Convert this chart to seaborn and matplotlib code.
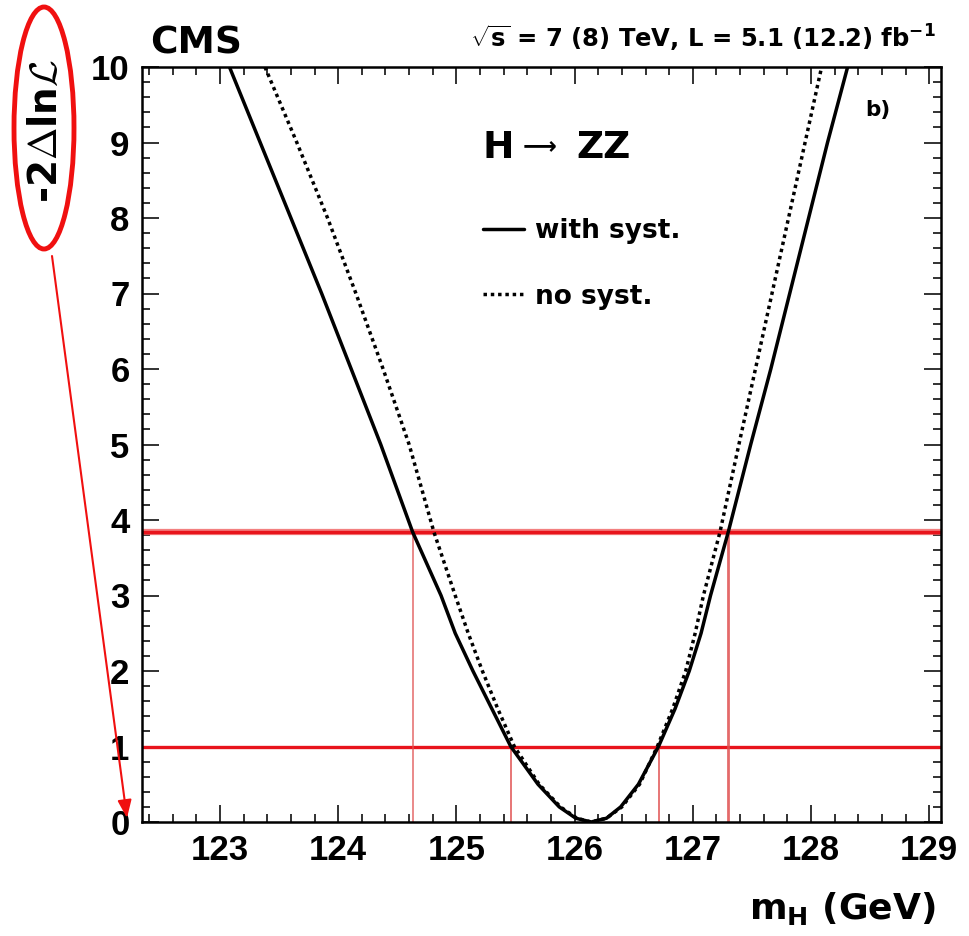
import numpy as np
import pandas as pd
import matplotlib
matplotlib.use("Agg")
import matplotlib.pyplot as plt
import seaborn as sns
from matplotlib.patches import Ellipse
from matplotlib.ticker import MultipleLocator

# ---- data ----
mass_with = [123.08, 123.34, 123.60, 123.86, 124.11, 124.36, 124.63, 124.87, 124.99,
             125.14, 125.30, 125.46, 125.69, 125.87, 126.01, 126.14, 126.27, 126.39,
             126.54, 126.71, 126.85, 126.97, 127.07, 127.15, 127.30, 127.49, 127.66,
             127.82, 127.98, 128.14, 128.31]
nll_with = [10.0, 9.0, 8.0, 7.0, 6.0, 5.0, 3.84, 3.0, 2.5,
            2.0, 1.5, 1.0, 0.5, 0.2, 0.05, 0.0, 0.05, 0.2,
            0.5, 1.0, 1.5, 2.0, 2.5, 3.0, 3.84, 5.0, 6.0,
            7.0, 8.0, 9.0, 10.0]
mass_nosyst = [123.38, 123.65, 123.91, 124.15, 124.38, 124.60, 124.81, 124.99, 125.10,
               125.22, 125.35, 125.49, 125.70, 125.88, 126.02, 126.14, 126.27, 126.40,
               126.55, 126.70, 126.83, 126.94, 127.02, 127.09, 127.23, 127.39, 127.53,
               127.67, 127.81, 127.95, 128.09]
nll_nosyst = [10.0, 9.0, 8.0, 7.0, 6.0, 5.0, 3.84, 3.0, 2.5,
              2.0, 1.5, 1.0, 0.5, 0.2, 0.05, 0.0, 0.05, 0.2,
              0.5, 1.0, 1.5, 2.0, 2.5, 3.0, 3.84, 5.0, 6.0,
              7.0, 8.0, 9.0, 10.0]
levels = [1.0, 3.84]
interval_68 = [125.46, 126.71]
interval_95 = [124.63, 127.30]
x_ticks = [123, 124, 125, 126, 127, 128, 129]
y_ticks = [0, 1, 2, 3, 4, 5, 6, 7, 8, 9, 10]

df = pd.concat([
    pd.DataFrame({"mH": mass_with, "nll": nll_with, "series": "with syst."}),
    pd.DataFrame({"mH": mass_nosyst, "nll": nll_nosyst, "series": "no syst."}),
])

sns.set_theme(style="ticks")
plt.rcParams["font.family"] = ["Liberation Sans", "DejaVu Sans"]
plt.rcParams["font.weight"] = "bold"
plt.rcParams["text.color"] = "black"
plt.rcParams["axes.labelcolor"] = "black"
plt.rcParams["xtick.color"] = "black"
plt.rcParams["ytick.color"] = "black"
plt.rcParams["mathtext.fontset"] = "custom"
plt.rcParams["mathtext.rm"] = "DejaVu Sans:bold"
plt.rcParams["mathtext.bf"] = "DejaVu Sans:bold"
plt.rcParams["mathtext.it"] = "DejaVu Sans:bold:italic"
WIDE = ["DejaVu Sans"]

W, H = 970, 936
fig = plt.figure(figsize=(W / 100, H / 100), dpi=100)
L, R, T, B = 142, 941, 67, 822
ax = fig.add_axes([L / W, 1 - B / H, (R - L) / W, (B - T) / H])

sns.lineplot(data=df, x="mH", y="nll", hue="series", style="series",
             palette={"with syst.": "black", "no syst.": "black"},
             dashes={"with syst.": "", "no syst.": (1, 1.1)},
             estimator=None, sort=False, linewidth=2.5, ax=ax, legend=True)
for ln in ax.get_lines():
    ln.set_solid_joinstyle("round")

# red confidence-level lines
ax.axhline(levels[0], color="#e8141c", lw=2.4, zorder=1)
ax.axhline(levels[1], color="#f06060", lw=4.5, zorder=1, alpha=0.8)
ax.axhline(levels[1], color="#e8141c", lw=2.4, zorder=1)
for xv in interval_68:
    ax.plot([xv, xv], [0, levels[0]], color="#e05050", lw=1.1, zorder=1)
for i, xv in enumerate(interval_95):
    ax.plot([xv, xv], [0, levels[1]], color="#e05050",
            lw=1.1 if i == 0 else 2.0, alpha=0.85, zorder=1)

ax.set_xlim(122.34, 129.1)
ax.set_ylim(0, 10)
ax.set_xticks(x_ticks)
ax.set_yticks(y_ticks)
ax.xaxis.set_minor_locator(MultipleLocator(0.2))
ax.yaxis.set_minor_locator(MultipleLocator(0.2))
ax.tick_params(which="both", direction="in", top=True, right=True,
               width=1.3, color="#222222")
ax.tick_params(which="major", length=12, labelsize=25, pad=9)
ax.tick_params(which="minor", length=6)
for lab in ax.get_xticklabels() + ax.get_yticklabels():
    lab.set_fontweight("bold")
for sp in ax.spines.values():
    sp.set_linewidth(1.8)
    sp.set_color("black")
ax.set_xlabel("")
ax.set_ylabel("")

# axis titles
fig.text(936 / W, 1 - 919 / H, r"m$_{\mathregular{H}}$ (GeV)", fontsize=26,
         fontweight="bold", ha="right", va="baseline", family=WIDE)
fig.text(46 / W, 1 - 131 / H, r"-2$\Delta$ln$\mathcal{L}$", fontsize=28,
         fontweight="bold", rotation=90, ha="center", va="center",
         math_fontfamily="cm", family=WIDE)

# legend
handles, labels = ax.get_legend_handles_labels()
leg = ax.legend(handles, labels, loc="upper left", bbox_to_anchor=(0.427, 0.80),
                frameon=False, prop={"family": WIDE, "weight": "bold", "size": 19},
                handlelength=1.55, handletextpad=0.4,
                labelspacing=1.5, borderpad=0, borderaxespad=0)
for h in leg.get_lines():
    h.set_linewidth(2.5)

# texts
fig.text(150 / W, 1 - 54 / H, "CMS", fontsize=27, fontweight="bold",
         ha="left", va="baseline", family=WIDE)
fig.text(936 / W, 1 - 48 / H,
         r"$\sqrt{\mathregular{s}}$ = 7 (8) TeV, L = 5.1 (12.2) fb$^{\mathregular{-1}}$",
         fontsize=17.5, fontweight="bold", ha="right", va="baseline", family=WIDE)
tx = ax.transAxes
ax.text((483 - L) / (R - L), 1 - (158 - T) / (B - T), "H", fontsize=27,
        fontweight="bold", ha="left", va="baseline", transform=tx, family=WIDE)
ax.text((518 - L) / (R - L), 1 - (152 - T) / (B - T), r"$\longrightarrow$",
        fontsize=17, ha="left", va="baseline", transform=tx,
        math_fontfamily="dejavusans")
ax.text((576 - L) / (R - L), 1 - (158 - T) / (B - T), "ZZ", fontsize=27,
        fontweight="bold", ha="left", va="baseline", transform=tx, family=WIDE)
ax.text((865 - L) / (R - L), 1 - (116 - T) / (B - T), "b)", fontsize=15.5,
        fontweight="bold", ha="left", va="baseline", transform=tx,
        family=WIDE)

# red annotation ellipse and arrow
ell = Ellipse((44 / W, 1 - 128 / H), 60 / W, 242 / H, transform=fig.transFigure,
              fill=False, edgecolor="#f01010", lw=3.5, zorder=10)
fig.add_artist(ell)
ax.annotate("", xy=(127 / W, 1 - 818 / H), xycoords="figure fraction",
            xytext=(52 / W, 1 - 256 / H), textcoords="figure fraction",
            arrowprops=dict(arrowstyle="-|>,head_length=0.9,head_width=0.35",
                            color="#f01010", lw=1.5, shrinkA=0, shrinkB=0),
            annotation_clip=False)

fig.savefig("out.png", dpi=100)
